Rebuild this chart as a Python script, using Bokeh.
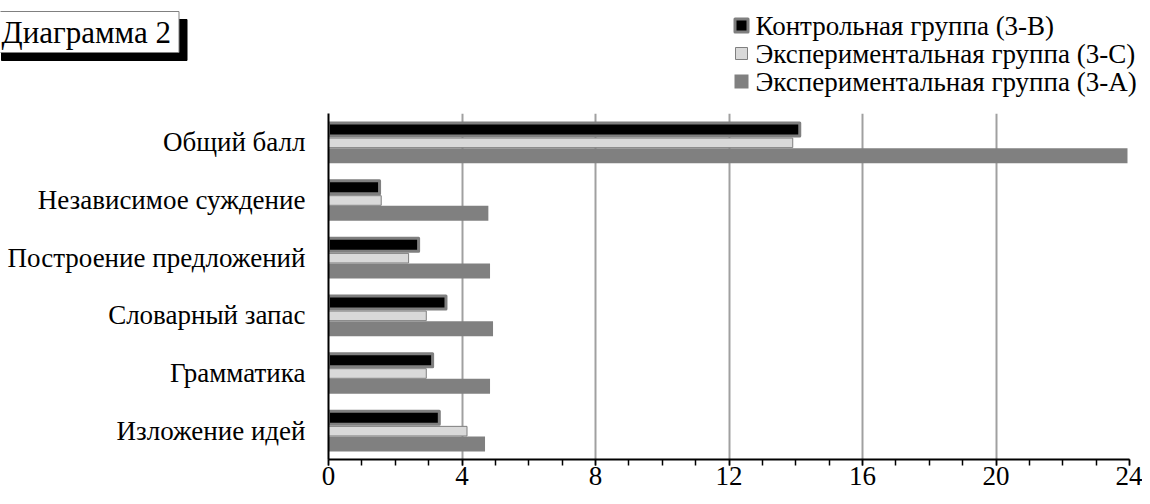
from bokeh.plotting import figure
from bokeh.layouts import column
from bokeh.models import (FactorRange, Range1d, Label, FixedTicker, ColumnDataSource)
from bokeh.core.properties import value
from bokeh.transform import dodge
from bokeh.embed import file_html
from bokeh.resources import INLINE

# ---- data -------------------------------------------------------------
categories = ["Общий балл", "Независимое суждение", "Построение предложений",
              "Словарный запас", "Грамматика", "Изложение идей"]
control_3B = [14.12, 1.53, 2.70, 3.52, 3.12, 3.32]   # Контрольная группа (3-В)
exper_3C = [13.91, 1.58, 2.40, 2.93, 2.93, 4.15]     # Экспериментальная группа (3-С)
exper_3A = [23.94, 4.79, 4.84, 4.93, 4.84, 4.69]     # Экспериментальная группа (3-А)
series_names = ["Контрольная группа (3-В)",
                "Экспериментальная группа (3-С)",
                "Экспериментальная группа (3-А)"]
x_ticks = [0, 4, 8, 12, 16, 20, 24]
x_minor = list(range(0, 25))
title_text = "Диаграмма 2"

# ---- style ------------------------------------------------------------
FONT = "Liberation Serif"
W = 1142
HEAD_H = 113
MAIN_H = 383
BLACK, LIGHT, DARK, EDGE = "#000000", "#d9d9d9", "#808080", "#7f7f7f"

# ---- header: title box + legend (pixel-like coordinates, y downwards) --
head = figure(width=W, height=HEAD_H, x_range=Range1d(0, W),
              y_range=Range1d(HEAD_H, 0), x_axis_type=None, y_axis_type=None,
              output_backend="svg", toolbar_location=None,
              min_border=0, outline_line_color=None)
head.grid.visible = False
head.frame_align = False

shadow = Label(x=1, y=19, text=title_text, text_font=FONT, text_font_size="31px",
               text_color="black", background_fill_color="black",
               border_line_color="black", padding=(8, 3), anchor="top_left")
title_box = Label(x=-7, y=11, text=title_text, text_font=FONT, text_font_size="31px",
                  text_color="black", background_fill_color="white",
                  border_line_color="#808080", border_line_width=1,
                  padding=(8, 3), anchor="top_left")
head.add_layout(shadow)
head.add_layout(title_box)

leg_x, leg_y0, leg_dy = 741, 25, 28
leg_ys = [leg_y0 + i * leg_dy for i in range(3)]
head.rect(x=leg_x, y=leg_ys[0], width=13, height=13, fill_color=BLACK,
          line_color=EDGE, line_width=3, line_join="round")
head.rect(x=leg_x, y=leg_ys[1], width=12, height=12, fill_color=LIGHT,
          line_color=EDGE, line_width=1)
head.rect(x=leg_x, y=leg_ys[2], width=14, height=14, fill_color=DARK,
          line_color=None)
head.text(x=[leg_x + 14] * 3, y=leg_ys, text=series_names,
          text_font=value(FONT), text_font_size="27px", text_color="black",
          text_align="left", text_baseline="middle")

# ---- main chart -------------------------------------------------------
source = ColumnDataSource(dict(cat=categories, b=control_3B, c=exper_3C, a=exper_3A))

p = figure(width=W, height=MAIN_H,
           y_range=FactorRange(factors=categories[::-1], range_padding=0),
           x_range=Range1d(0, 24),
           output_backend="svg", toolbar_location=None,
           min_border_left=328, min_border_right=13,
           min_border_top=0, min_border_bottom=37)
p.outline_line_color = None
p.frame_align = False

p.ygrid.grid_line_color = None
p.xgrid.grid_line_color = "#a0a0a0"
p.xgrid.grid_line_width = 2

xa = p.xaxis[0]
xa.ticker = FixedTicker(ticks=x_ticks, minor_ticks=x_minor)
xa.axis_line_color = "black"
xa.axis_line_width = 2
xa.major_tick_line_color = "black"
xa.major_tick_line_width = 1.5
xa.minor_tick_line_color = "black"
xa.minor_tick_line_width = 1.5
xa.major_tick_in = 0
xa.major_tick_out = 6
xa.minor_tick_in = 0
xa.minor_tick_out = 6
xa.major_label_text_font = FONT
xa.major_label_text_font_size = "27px"
xa.major_label_text_color = "black"
xa.major_label_standoff = 1

ya = p.yaxis[0]
ya.axis_line_color = "black"
ya.axis_line_width = 2
ya.major_tick_line_color = None
ya.minor_tick_line_color = None
ya.major_tick_in = 0
ya.major_tick_out = 0
ya.minor_tick_in = 0
ya.minor_tick_out = 0
ya.major_label_text_font = FONT
ya.major_label_text_font_size = "27px"
ya.major_label_text_color = "black"
ya.major_label_standoff = 23

# bars (dark first, then light, then black on top)
p.hbar(y=dodge("cat", -0.2306, range=p.y_range), left=0, right="a",
       height=0.260, fill_color=DARK, line_color=None, source=source)
p.hbar(y=dodge("cat", -0.0087, range=p.y_range), left=0, right="c",
       height=0.1665, fill_color=LIGHT, line_color=EDGE,
       line_width=1, source=source)
p.hbar(y=dodge("cat", 0.222, range=p.y_range), left=0, right="b",
       height=0.2254, fill_color=BLACK, line_color=EDGE,
       line_width=3, line_join="round", source=source)

layout = column(head, p, spacing=0)
open("out.html", "w").write(file_html(layout, INLINE))
